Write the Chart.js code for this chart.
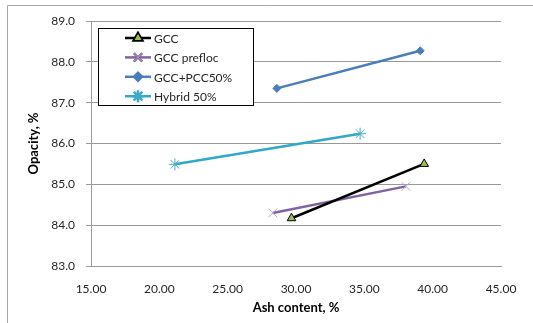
<!DOCTYPE html>
<html>
<head>
<meta charset="utf-8">
<script src="https://cdn.jsdelivr.net/npm/chart.js@4"></script>
<style>
  html, body { margin: 0; padding: 0; background: #fff; }
  #wrap { position: relative; width: 533px; height: 323px; }
</style>
</head>
<body>
<div id="wrap"><canvas id="chart" width="533" height="323"></canvas></div>
<script>
// data: [ash content %, opacity %]
const seriesNames = ['GCC', 'GCC prefloc', 'GCC+PCC50%', 'Hybrid 50%'];
const gccX = [29.67, 39.38];
const gccY = [84.17, 85.50];
const preflocX = [28.30, 38.04];
const preflocY = [84.30, 84.95];
const pcc50X = [28.60, 39.09];
const pcc50Y = [87.35, 88.27];
const hybridX = [21.14, 34.69];
const hybridY = [85.49, 86.24];

const xTickLabels = ['15.00', '20.00', '25.00', '30.00', '35.00', '40.00', '45.00'];
const yTickLabels = ['83.0', '84.0', '85.0', '86.0', '87.0', '88.0', '89.0'];

function pts(xs, ys) {
    return xs.map((x, i) => ({ x: x, y: ys[i] }));
}

Chart.defaults.font.family = 'Lato, "Open Sans", sans-serif';
Chart.defaults.font.size = 12;
Chart.defaults.color = '#262626';

// grey frame round the whole picture (only top and left are visible)
const frame = {
    id: 'frame',
    beforeDraw(chart) {
        const c = chart.ctx;
        c.save();
        c.strokeStyle = '#a6a6a6';
        c.lineWidth = 1;
        c.beginPath();
        c.moveTo(7.5, 323);
        c.lineTo(7.5, 5.5);
        c.lineTo(533, 5.5);
        c.stroke();
        c.restore();
    }
};

// legend box inside the plot, like excel
const boxLegend = {
    id: 'boxLegend',
    afterDraw(chart) {
        const c = chart.ctx;
        const left = 98.5, top = 28.5, w = 155, h = 77;
        c.save();
        c.fillStyle = '#fff';
        c.fillRect(left, top, w, h);
        c.strokeStyle = '#000';
        c.lineWidth = 1;
        c.strokeRect(left, top, w, h);
        chart.data.datasets.forEach((ds, i) => {
            const y = 38 + i * 19.4;
            c.strokeStyle = ds.borderColor;
            c.lineWidth = ds.borderWidth;
            c.beginPath();
            c.moveTo(125, y);
            c.lineTo(151, y);
            c.stroke();
            Chart.helpers.drawPoint(c, {
                pointStyle: ds.pointStyle,
                radius: ds.pointRadius,
                borderWidth: ds.pointBorderWidth,
                rotation: 0
            }, 138, y);
            c.fillStyle = ds.pointBackgroundColor;
            c.strokeStyle = ds.pointBorderColor;
            c.lineWidth = ds.pointBorderWidth;
            c.beginPath();
            Chart.helpers.drawPoint(c, {
                pointStyle: ds.pointStyle,
                radius: ds.pointRadius,
                borderWidth: ds.pointBorderWidth,
                rotation: 0
            }, 138, y);
            c.fillStyle = '#262626';
            c.font = '12px Lato, "Open Sans", sans-serif';
            c.textBaseline = 'middle';
            c.textAlign = 'left';
            c.fillText(ds.label, 154, y + 1);
        });
        c.restore();
    }
};

new Chart(document.getElementById('chart'), {
    type: 'line',
    data: {
        datasets: [{
            label: seriesNames[0],
            data: pts(gccX, gccY),
            borderColor: '#000000',
            borderWidth: 2.5,
            pointStyle: 'triangle',
            pointRadius: 5,
            pointBackgroundColor: '#9bbb59',
            pointBorderColor: '#000000',
            pointBorderWidth: 1
        }, {
            label: seriesNames[1],
            data: pts(preflocX, preflocY),
            borderColor: '#8064a2',
            borderWidth: 2.5,
            pointStyle: 'crossRot',
            pointRadius: 6,
            pointBackgroundColor: '#b3a2c7',
            pointBorderColor: '#b3a2c7',
            pointBorderWidth: 1
        }, {
            label: seriesNames[2],
            data: pts(pcc50X, pcc50Y),
            borderColor: '#4a7ebb',
            borderWidth: 2.5,
            pointStyle: 'rectRot',
            pointRadius: 4,
            pointBackgroundColor: '#4a7ebb',
            pointBorderColor: '#4a7ebb',
            pointBorderWidth: 1
        }, {
            label: seriesNames[3],
            data: pts(hybridX, hybridY),
            borderColor: '#31a9c6',
            borderWidth: 2.5,
            pointStyle: 'star',
            pointRadius: 6,
            pointBackgroundColor: '#4bacc6',
            pointBorderColor: '#4bacc6',
            pointBorderWidth: 1
        }]
    },
    options: {
        responsive: false,
        animation: false,
        layout: {
            padding: { left: 22, top: 21, right: 32, bottom: 0 }
        },
        plugins: {
            legend: { display: false },
            tooltip: { enabled: false }
        },
        scales: {
            x: {
                type: 'linear',
                min: 15,
                max: 45,
                ticks: {
                    stepSize: 5,
                    padding: 8,
                    maxRotation: 0,
                    callback: (v, i) => xTickLabels[i]
                },
                grid: { display: false },
                border: { display: true, color: '#999999', width: 1 },
                title: {
                    display: true,
                    text: 'Ash content, %',
                    font: { size: 13, weight: 'bold' },
                    color: '#000',
                    padding: { top: 0, bottom: 7 }
                },
                afterFit: (s) => { s.height = 57; }
            },
            y: {
                min: 83,
                max: 89,
                ticks: {
                    stepSize: 1,
                    padding: 11,
                    callback: (v, i) => yTickLabels[i]
                },
                grid: {
                    color: '#999999',
                    tickLength: 5,
                    drawTicks: true
                },
                border: { display: true, color: '#999999', width: 1 },
                title: {
                    display: true,
                    text: 'Opacity, %',
                    font: { size: 13, weight: 'bold' },
                    color: '#000',
                    padding: { top: 4, bottom: 0 }
                },
                afterFit: (s) => { s.width = 69; }
            }
        }
    },
    plugins: [frame, boxLegend]
});
</script>
</body>
</html>
